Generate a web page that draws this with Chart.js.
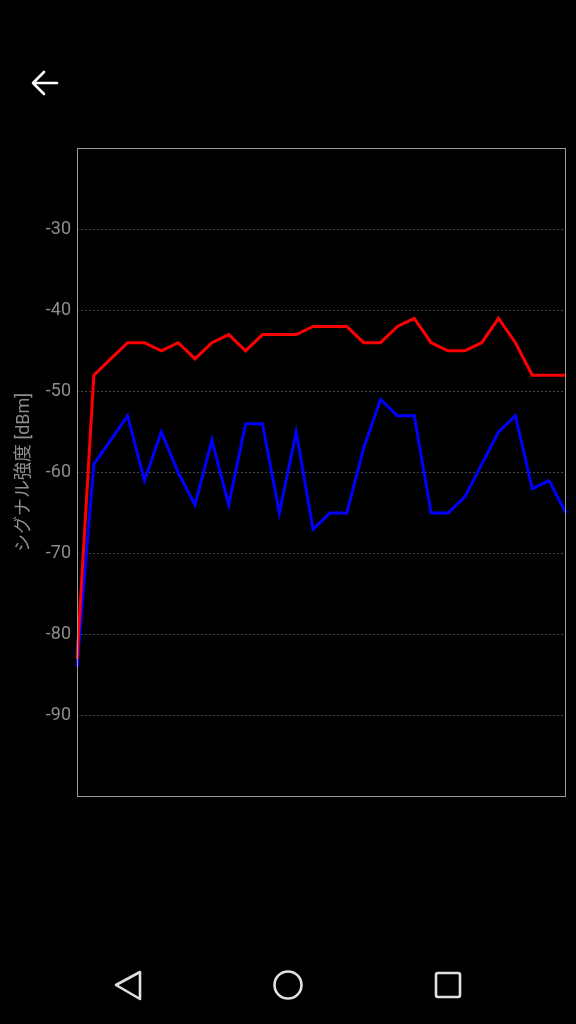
<!DOCTYPE html>
<html>
<head>
<meta charset="utf-8">
<script src="https://cdn.jsdelivr.net/npm/chart.js@4"></script>
<style>
  html, body { margin: 0; padding: 0; background: #000; }
  #wrap { position: absolute; left: 0; top: 0; width: 576px; height: 1024px; }
  svg { position: absolute; left: 0; top: 0; }
</style>
</head>
<body>
<div id="wrap"><canvas id="signalChart"></canvas></div>
<svg width="576" height="1024" fill="none" stroke-linecap="round" stroke-linejoin="round">
  <g stroke="#fff" stroke-width="2.6">
    <path d="M33 83 H57 M44 72 L33 83 L44 94"/>
  </g>
  <g stroke="#e0e0e0" stroke-width="2.6">
    <path d="M116 985 L140 972 L140 999 Z"/>
    <circle cx="288" cy="985" r="13.5"/>
    <rect x="436" y="973" width="24" height="24" rx="2"/>
  </g>
</svg>
<script>
const samples = Array.from({ length: 30 }, (_, i) => String(i));

const redSignal = [-83, -48, -46, -44, -44, -45, -44, -46, -44, -43,
  -45, -43, -43, -43, -42, -42, -42, -44, -44, -42,
  -41, -44, -45, -45, -44, -41, -44, -48, -48, -48];

const blueSignal = [-84, -59, -56, -53, -61, -55, -60, -64, -56, -64,
  -54, -54, -65, -55, -67, -65, -65, -57, -51, -53,
  -53, -65, -65, -63, -59, -55, -53, -62, -61, -65];

const yTicks = [-30, -40, -50, -60, -70, -80, -90];

// box around the plot area
const frame = {
  id: "frame",
  afterDraw(chart) {
    const { ctx, chartArea: a } = chart;
    ctx.save();
    ctx.strokeStyle = "#9a9a9a";
    ctx.lineWidth = 1;
    ctx.strokeRect(a.left + 0.5, a.top + 0.5, a.right - a.left - 1, a.bottom - a.top - 1);
    ctx.restore();
  },
};

new Chart(document.getElementById("signalChart"), {
  type: "line",
  data: {
    labels: samples,
    datasets: [
      {
        data: redSignal,
        borderColor: "#ff0000",
        borderWidth: 3,
        pointRadius: 0,
        tension: 0,
      },
      {
        data: blueSignal,
        borderColor: "#0000ff",
        borderWidth: 3,
        pointRadius: 0,
        tension: 0,
      },
    ],
  },
  options: {
    responsive: true,
    maintainAspectRatio: false,
    animation: false,
    layout: {
      padding: { top: 148, bottom: 227, right: 10, left: 0 },
    },
    plugins: {
      legend: { display: false },
      tooltip: { enabled: false },
    },
    scales: {
      x: {
        display: false,
      },
      y: {
        min: -100,
        max: -20,
        afterBuildTicks: (s) => {
          s.ticks = yTicks.map((v) => ({ value: v }));
        },
        afterFit: (s) => {
          s.width = 77;
        },
        border: { display: false, dash: [2, 2] },
        grid: {
          color: "#444444",
          lineWidth: 1,
          drawTicks: false,
        },
        ticks: {
          color: "#8c8c8c",
          padding: 6,
          font: { family: "Roboto", size: 18 },
        },
        title: {
          display: true,
          text: "シグナル強度 [dBm]",
          color: "#8c8c8c",
          padding: { top: 14, bottom: 0 },
          font: { family: "Roboto, 'Noto Sans CJK JP'", size: 18 },
        },
      },
    },
  },
  plugins: [frame],
});
</script>
</body>
</html>
